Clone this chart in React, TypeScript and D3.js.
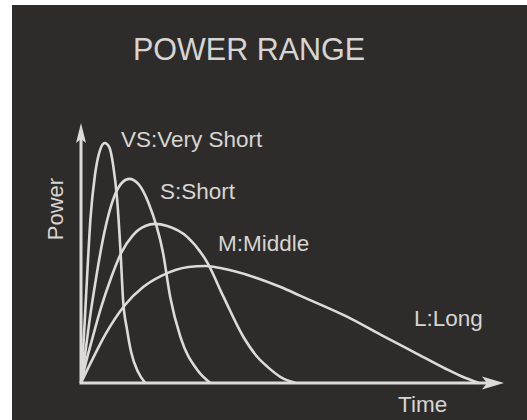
import * as d3 from 'd3';
import { useEffect, useRef } from 'react';

// time 0..100 along the axis, power 0..100 up to the arrow tip
const seriesNames = ['VS:Very Short', 'S:Short', 'M:Middle', 'L:Long'];

const timeVS = [0, 0.5, 0.95, 1.55, 2.25, 3.3, 4.5, 5.6, 6.65, 7.6, 8.55, 9.35, 9.95, 10.9, 11.85, 13.5, 15.2];
const powerVS = [0, 12.7, 25.8, 44.2, 63.5, 80, 89.6, 92.3, 90.8, 83.8, 70.4, 50.4, 31.9, 20.4, 11.9, 4.2, 0];

const timeS = [0, 1.1, 2.1, 3.3, 5.2, 8.1, 9.8, 11.4, 13.6, 15.9, 19.4, 21.1, 23.5, 27.5, 30.6];
const powerS = [0, 12.7, 25, 37.7, 55.4, 72.7, 77.2, 78.5, 76.5, 69.5, 50, 33, 17.7, 5, 0];

const timeM = [0, 1.2, 2.4, 4.7, 7.1, 9.5, 12.3, 15.2, 17.5, 20.4, 25.1, 29.9, 33.7, 38.4, 41.7, 44.1, 47.2, 50.7];
const powerM = [0, 8.1, 15.4, 28.8, 40.4, 50, 56.9, 60.4, 61.2, 60.4, 56.2, 46.2, 33.1, 17.7, 10, 6.2, 2.3, 0];

const timeL = [0, 2.4, 5.7, 10.4, 14.7, 19, 25.4, 29.4, 32.9, 40.8, 47.2, 51.9, 63, 70.9, 78.7, 86.3, 89.8, 94.1];
const powerL = [0, 8.1, 18.5, 30, 36.9, 41.2, 44.6, 45, 44.2, 40.8, 36.9, 33.5, 25.4, 18.5, 11.9, 5.4, 2.7, 0];

const seriesTimes = [timeVS, timeS, timeM, timeL];
const seriesPowers = [powerVS, powerS, powerM, powerL];

export default function App() {
  const ref = useRef<SVGSVGElement | null>(null);

  useEffect(() => {
    const width = 527, height = 420;
    const ink = '#dcdbd9';
    const svg = d3.select(ref.current);
    svg.selectAll('*').remove();

    svg.append('rect').attr('width', width).attr('height', height).attr('fill', '#ffffff');
    svg.append('rect').attr('x', 12).attr('y', 5)
      .attr('width', width - 12).attr('height', height - 5)
      .attr('fill', '#2e2c2a');

    const x = d3.scaleLinear().domain([0, 100]).range([81, 504]);
    const y = d3.scaleLinear().domain([0, 100]).range([383, 123]);

    const line = d3.line<[number, number]>()
      .x(d => x(d[0]))
      .y(d => y(d[1]))
      .curve(d3.curveMonotoneX);

    seriesTimes.forEach((ts, i) => {
      const pts = ts.map((t, j) => [t, seriesPowers[i][j]] as [number, number]);
      svg.append('path')
        .datum(pts)
        .attr('fill', 'none')
        .attr('stroke', ink)
        .attr('stroke-width', 2.6)
        .attr('stroke-linejoin', 'round')
        .attr('d', line);
    });

    // axes with arrow heads
    const x0 = x(0), y0 = y(0), xEnd = x(100), yEnd = y(100);
    svg.append('path')
      .attr('d', `M${x0},${yEnd + 14}L${x0},${y0}L${xEnd - 14},${y0}`)
      .attr('fill', 'none')
      .attr('stroke', ink)
      .attr('stroke-width', 3);
    svg.append('path')
      .attr('d', `M${xEnd},${y0}L${xEnd - 22},${y0 - 6.5}L${xEnd - 17},${y0}L${xEnd - 22},${y0 + 6.5}Z`)
      .attr('fill', ink);
    svg.append('path')
      .attr('d', `M${x0},${yEnd}L${x0 - 5},${yEnd + 20}L${x0},${yEnd + 16}L${x0 + 5},${yEnd + 20}Z`)
      .attr('fill', ink);

    const font = "'Liberation Sans', Arial, sans-serif";
    const txt = (s: string, tx: number, ty: number, size: number) =>
      svg.append('text')
        .attr('x', tx).attr('y', ty)
        .attr('fill', '#d6d5d3')
        .style('font-family', font)
        .style('font-size', `${size}px`)
        .text(s);

    txt('POWER RANGE', 133, 60, 30.5);
    txt(seriesNames[0], 121, 147, 22.5);
    txt(seriesNames[1], 160, 199, 22.5);
    txt(seriesNames[2], 218, 251, 22.5);
    txt(seriesNames[3], 414, 326, 22.5);
    txt('Time', 398, 412, 22.5);

    svg.append('text')
      .attr('transform', 'translate(63,209) rotate(-90)')
      .attr('text-anchor', 'middle')
      .attr('fill', '#d6d5d3')
      .style('font-family', font)
      .style('font-size', '22px')
      .text('Power');
  }, []);

  return (
    <svg
      ref={ref}
      width={527}
      height={420}
      style={{ position: 'absolute', left: 0, top: 0, display: 'block' }}
    />
  );
}
